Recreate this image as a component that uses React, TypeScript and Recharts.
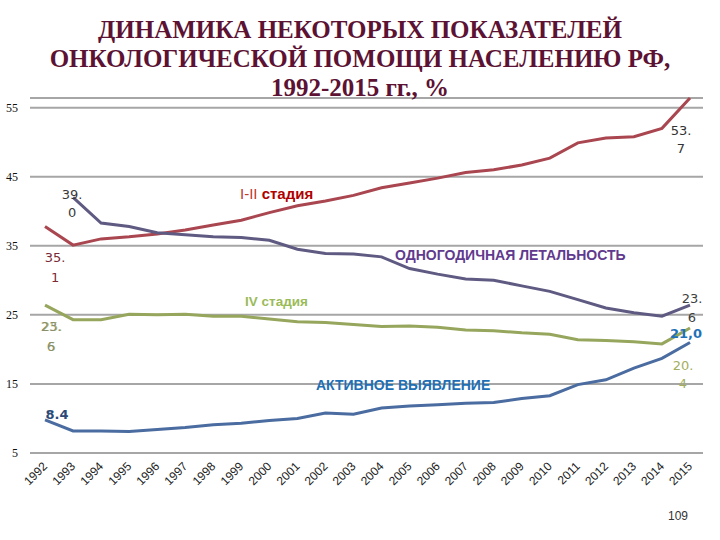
import React from "react";
import { LineChart, Line, XAxis, YAxis, CartesianGrid } from "recharts";

const years = ["1992","1993","1994","1995","1996","1997","1998","1999","2000","2001","2002","2003","2004","2005","2006","2007","2008","2009","2010","2011","2012","2013","2014","2015"];
const stage12 = [37.8, 35.1, 36.0, 36.3, 36.7, 37.3, 38.0, 38.7, 39.8, 40.8, 41.5, 42.3, 43.4, 44.1, 44.8, 45.6, 46.0, 46.7, 47.7, 49.9, 50.6, 50.8, 52.0, 56.4];
const lethality = [null, 42.0, 38.3, 37.8, 36.9, 36.6, 36.3, 36.2, 35.8, 34.5, 33.9, 33.8, 33.4, 31.7, 30.9, 30.2, 30.0, 29.2, 28.4, 27.2, 26.0, 25.3, 24.8, 26.4];
const stage4 = [26.4, 24.3, 24.3, 25.1, 25.0, 25.1, 24.8, 24.8, 24.4, 24.0, 23.9, 23.6, 23.3, 23.4, 23.2, 22.8, 22.7, 22.4, 22.2, 21.4, 21.3, 21.1, 20.8, 23.1];
const active = [9.8, 8.2, 8.2, 8.1, 8.4, 8.7, 9.1, 9.3, 9.7, 10.0, 10.8, 10.6, 11.5, 11.8, 12.0, 12.2, 12.3, 12.9, 13.3, 14.9, 15.6, 17.3, 18.7, 21.0];
const yTicks = [5, 15, 25, 35, 45, 55];

const titleLines = ["ДИНАМИКА НЕКОТОРЫХ ПОКАЗАТЕЛЕЙ", "ОНКОЛОГИЧЕСКОЙ ПОМОЩИ НАСЕЛЕНИЮ РФ,", "1992-2015 гг., %"];

type Note = { i: number; lines: string[]; dx: number; dy: number[]; color: string; bold?: boolean };

const notes12: Note[] = [
  { i: 1, lines: ["35.", "1"], dx: -18, dy: [17, 37], color: "#7a2a36" },
  { i: 23, lines: ["53.", "7"], dx: -9, dy: [37, 55], color: "#333333" },
];
const notesLeth: Note[] = [
  { i: 1, lines: ["39.", "0"], dx: -1, dy: [2, 20], color: "#3a3a3a" },
  { i: 23, lines: ["23.", "6"], dx: 2, dy: [-2, 17], color: "#404040" },
];
const notes4: Note[] = [
  { i: 0, lines: ["25.", "5"], dx: 7, dy: [26, 46], color: "#aab86c" },
  { i: 0, lines: ["23.", "6"], dx: 6, dy: [26, 46], color: "#8a8e6e" },
  { i: 23, lines: ["20.", "4"], dx: -7, dy: [42, 60], color: "#a3ae5e" },
];
const notesActive: Note[] = [
  { i: 0, lines: ["8.4"], dx: 12, dy: [-1], color: "#2b4a78", bold: true },
  { i: 23, lines: ["21,0"], dx: -4, dy: [-4], color: "#1f72b8", bold: true },
];

const data = years.map((y, k) => ({
  year: y,
  s12: stage12[k],
  leth: lethality[k],
  s4: stage4[k],
  act: active[k],
}));

const makeLabel = (notes: Note[]) => (props: any) => {
  const { x, y, index } = props;
  const list = notes.filter((n) => n.i === index);
  if (!list.length || x == null || y == null) return <g key={`e${index}`} />;
  return (
    <g key={`n${index}`}>
      {list.map((n, j) =>
        n.lines.map((t, k) => (
          <text
            key={`${j}-${k}`}
            x={x + n.dx}
            y={y + n.dy[k]}
            textAnchor="middle"
            fill={n.color}
            fontSize={13}
            fontWeight={n.bold ? 700 : 400}
            fontFamily="'DejaVu Sans', sans-serif"
          >
            {t}
          </text>
        ))
      )}
    </g>
  );
};

const XTick = (props: any) => {
  const { x, y, payload } = props;
  return (
    <g transform={`translate(${x + 3},${y + 6})`}>
      <text
        x={0}
        y={0}
        textAnchor="end"
        transform="rotate(-45)"
        fontSize={12}
        fill="#222"
        fontFamily="'Liberation Sans', Arial, sans-serif"
      >
        {payload.value}
      </text>
    </g>
  );
};

const abs = (s: React.CSSProperties): React.CSSProperties => ({ position: "absolute", whiteSpace: "nowrap", ...s });

export default function App() {
  return (
    <div style={{ position: "fixed", left: 0, top: 0, width: 720, height: 540, background: "#fff", overflow: "hidden" }}>
      <div style={{ position: "absolute", left: 0, top: 0 }}>
        <LineChart width={720} height={540} data={data} margin={{ top: 98, right: 17, left: 0, bottom: 0 }}>
          <CartesianGrid vertical={false} stroke="#a6a6a6" strokeWidth={2} />
          <XAxis
            dataKey="year"
            height={87}
            padding={{ left: 15, right: 13 }}
            axisLine={false}
            tickLine={false}
            interval={0}
            tick={<XTick />}
          />
          <YAxis
            width={30}
            domain={[5, 55]}
            ticks={yTicks}
            axisLine={false}
            tickLine={false}
            tickMargin={6}
            tick={{ fontSize: 12, fill: "#111", fontFamily: "'Liberation Serif', serif" }}
          />
          <Line dataKey="s12" stroke="#a9464f" strokeWidth={3} dot={false} isAnimationActive={false} label={makeLabel(notes12)} />
          <Line dataKey="leth" stroke="#5f5a82" strokeWidth={3} dot={false} isAnimationActive={false} label={makeLabel(notesLeth)} />
          <Line dataKey="s4" stroke="#96a65c" strokeWidth={3} dot={false} isAnimationActive={false} label={makeLabel(notes4)} />
          <Line dataKey="act" stroke="#4a6ca0" strokeWidth={3} dot={false} isAnimationActive={false} label={makeLabel(notesActive)} />
        </LineChart>
      </div>
      <div
        style={abs({
          left: 0,
          top: 15,
          width: 720,
          textAlign: "center",
          fontFamily: "'Liberation Serif', 'Times New Roman', serif",
          fontSize: 25,
          fontWeight: 700,
          lineHeight: "29px",
          color: "#5c1233",
        })}
      >
        {titleLines.map((t) => (
          <div key={t}>{t}</div>
        ))}
      </div>
      <div style={abs({ left: 240, top: 185, fontFamily: "'Liberation Sans', Arial, sans-serif", fontSize: 15, color: "#c0392b" })}>
        I-II <span style={{ fontWeight: 700, color: "#b00000" }}>стадия</span>
      </div>
      <div style={abs({ left: 395, top: 247, fontFamily: "'Liberation Sans', Arial, sans-serif", fontSize: 14, fontWeight: 700, color: "#613a8e" })}>
        ОДНОГОДИЧНАЯ ЛЕТАЛЬНОСТЬ
      </div>
      <div style={abs({ left: 245, top: 294, fontFamily: "'Liberation Sans', Arial, sans-serif", fontSize: 13.5, fontWeight: 700, color: "#9bbb59" })}>
        IV стадия
      </div>
      <div style={abs({ left: 316, top: 377, fontFamily: "'Liberation Sans', Arial, sans-serif", fontSize: 14, fontWeight: 700, color: "#1f6fb4" })}>
        АКТИВНОЕ ВЫЯВЛЕНИЕ
      </div>
      <div style={abs({ left: 668, top: 509, fontFamily: "'Liberation Sans', Arial, sans-serif", fontSize: 12, color: "#333" })}>109</div>
    </div>
  );
}
